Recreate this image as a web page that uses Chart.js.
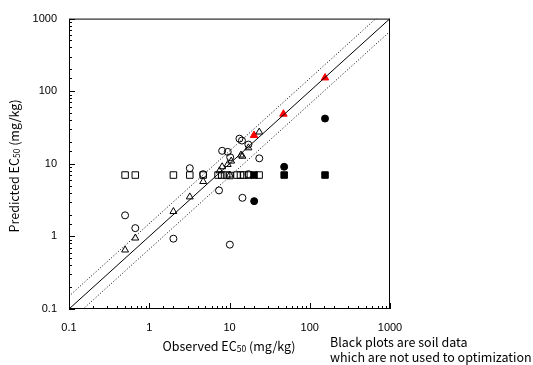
<!DOCTYPE html>
<html lang="en">
<head>
  <meta charset="UTF-8">
  <title>EC50 chart</title>
  <script src="https://cdn.jsdelivr.net/npm/chart.js@4.4.0/dist/chart.umd.min.js"></script>
  <style>
    body { margin: 0; background: #fff; }
  </style>
</head>
<body>
  <canvas id="mychart" width="533" height="365"></canvas>

  <script type="text/javascript">
    // tick labels shown on both log axes
    const tickLabels = [0.1, 1, 10, 100, 1000];

    // reference lines (1:1 and x1.5 band)
    const lineX = [0.1, 1000];
    const bandFactor = 1.5;

    // open circles
    const circleX = [0.5, 0.67, 2.0, 3.2, 4.7, 7.4, 8.1, 9.5, 10.1, 10.2, 13.3, 14.3, 14.5, 17.2, 17.2, 23.5];
    const circleY = [1.95, 1.3, 0.93, 8.7, 7.2, 4.3, 15.1, 14.6, 0.77, 12.3, 22.2, 20.9, 3.4, 18.4, 7.2, 11.9];

    // open triangles
    const triX = [0.5, 0.67, 2.0, 3.2, 4.7, 7.5, 8.1, 9.5, 10.1, 10.5, 13.9, 14.5, 17.2, 23.5];
    const triY = [0.65, 0.95, 2.2, 3.5, 5.7, 8.0, 9.1, 9.8, 7.0, 10.9, 13.2, 12.7, 16.6, 27.4];

    // open squares
    const squareX = [0.5, 0.67, 2.0, 3.2, 4.7, 7.2, 8.0, 9.2, 10.1, 12.4, 13.7, 15.1, 17.3, 23.4];
    const squareY = [7, 7, 7, 7, 7, 7, 7, 7, 6.9, 7, 7, 7, 7, 7];

    // soil data (black) and red triangles
    const soilSquareX = [20.2, 48, 155];
    const soilSquareY = [7, 7, 7];
    const soilCircleX = [20.3, 48, 155];
    const soilCircleY = [3.06, 9.1, 42];
    const redTriX = [20.2, 47, 155];
    const redTriY = [24.7, 48.5, 153];

    function pts(xs, ys) {
      return xs.map((x, i) => ({x: x, y: ys[i]}));
    }

    function scatterSet(data, style, radius, fill) {
      return {
        type: 'scatter',
        data: data,
        pointStyle: style,
        pointRadius: radius,
        pointBorderWidth: 1,
        pointBorderColor: fill === 'red' ? 'red' : '#000',
        pointBackgroundColor: fill || 'rgba(0,0,0,0)',
        showLine: false
      };
    }

    function lineSet(data, dash) {
      return {
        type: 'line',
        data: data,
        borderColor: '#000',
        borderWidth: 1,
        borderDash: dash,
        pointRadius: 0,
        fill: false
      };
    }

    const fontFace = "'Noto Sans CJK JP', 'Liberation Sans', sans-serif";

    // draws frame, inward tick marks, axis titles with subscript and the note
    const decorations = {
      id: 'decorations',
      afterDraw(chart) {
        const ctx = chart.ctx;
        const a = chart.chartArea;
        const xs = chart.scales.x, ys = chart.scales.y;
        ctx.save();
        ctx.strokeStyle = '#000';
        ctx.lineWidth = 1;
        ctx.strokeRect(a.left + 0.5, a.top + 0.5, a.right - a.left - 1, a.bottom - a.top - 1);
        ctx.beginPath();
        xs.ticks.forEach(t => {
          const px = Math.round(xs.getPixelForValue(t.value)) + 0.5;
          const major = tickLabels.includes(t.value);
          ctx.moveTo(px, a.bottom);
          ctx.lineTo(px, a.bottom - (major ? 6 : 3));
        });
        ys.ticks.forEach(t => {
          const py = Math.round(ys.getPixelForValue(t.value)) + 0.5;
          const major = tickLabels.includes(t.value);
          ctx.moveTo(a.left, py);
          ctx.lineTo(a.left + (major ? 6 : 3), py);
        });
        ctx.stroke();

        function subTitle(parts, x, y) {
          ctx.fillStyle = '#000';
          ctx.textBaseline = 'middle';
          ctx.textAlign = 'left';
          let total = 0;
          parts.forEach(p => {
            ctx.font = (p.sub ? '8.5px ' : '12.5px ') + fontFace;
            total += ctx.measureText(p.t).width;
          });
          let cx = x - total / 2;
          parts.forEach(p => {
            ctx.font = (p.sub ? '8.5px ' : '12.5px ') + fontFace;
            ctx.fillText(p.t, cx, p.sub ? y + 3 : y);
            cx += ctx.measureText(p.t).width;
          });
        }

        ctx.save();
        ctx.translate(14, (a.top + a.bottom) / 2 + 2);
        ctx.rotate(-Math.PI / 2);
        subTitle([{t: 'Predicted EC'}, {t: '50', sub: true}, {t: ' (mg/kg)'}], 0, 0);
        ctx.restore();

        subTitle([{t: 'Observed EC'}, {t: '50', sub: true}, {t: ' (mg/kg)'}], 229, 346);

        ctx.font = '12.5px ' + fontFace;
        ctx.textAlign = 'left';
        ctx.textBaseline = 'middle';
        ctx.fillText('Black plots are soil data', 330, 342);
        ctx.fillText('which are not used to optimization', 330, 357);
        ctx.restore();
      }
    };

    const tickOpts = {
      autoSkip: false,
      maxRotation: 0,
      color: '#000',
      font: {family: "'Liberation Sans', Arial, sans-serif", size: 11},
      callback: function (value) {
        return tickLabels.includes(value) ? String(value) : '';
      }
    };

    const config = {
      data: {
        datasets: [
          lineSet(pts(lineX, lineX), []),
          lineSet(pts(lineX, lineX.map(v => v * bandFactor)), [1, 2]),
          lineSet(pts(lineX, lineX.map(v => v / bandFactor)), [1, 2]),
          scatterSet(pts(squareX, squareY), 'rect', 4.6),
          scatterSet(pts(circleX, circleY), 'circle', 3.5),
          scatterSet(pts(triX, triY), 'triangle', 4),
          scatterSet(pts(soilSquareX, soilSquareY), 'rect', 4.6, '#000'),
          scatterSet(pts(soilCircleX, soilCircleY), 'circle', 3.5, '#000'),
          scatterSet(pts(redTriX, redTriY), 'triangle', 4.3, 'red')
        ]
      },
      options: {
        responsive: false,
        animation: false,
        layout: {padding: {top: 15, right: 143, left: 0, bottom: 0}},
        plugins: {
          legend: {display: false},
          tooltip: {enabled: false}
        },
        scales: {
          x: {
            type: 'logarithmic',
            min: 0.1,
            max: 1000,
            grid: {display: false, drawTicks: false},
            border: {display: false},
            ticks: Object.assign({padding: 12}, tickOpts),
            afterFit: function (scale) { scale.height = 56; }
          },
          y: {
            type: 'logarithmic',
            min: 0.1,
            max: 1000,
            grid: {display: false, drawTicks: false},
            border: {display: false},
            ticks: Object.assign({padding: 12}, tickOpts),
            afterFit: function (scale) { scale.width = 69; }
          }
        }
      },
      plugins: [decorations]
    };

    var myChart = new Chart(document.getElementById('mychart'), config);
  </script>
</body>
</html>
